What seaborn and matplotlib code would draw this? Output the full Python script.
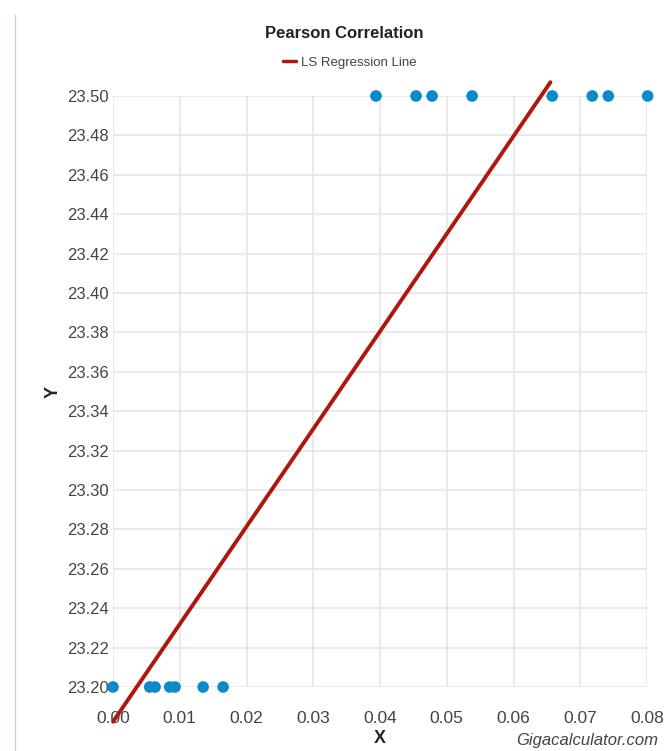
import matplotlib
matplotlib.use("Agg")
import matplotlib.pyplot as plt
import matplotlib.lines as mlines
import seaborn as sns
import numpy as np
import pandas as pd

# values
x_low = [0.0, 0.0055, 0.0063, 0.0085, 0.0093, 0.0135, 0.0165]
x_high = [0.0394, 0.0454, 0.0478, 0.0538, 0.0658, 0.0718, 0.0742, 0.0801]
y_low = 23.20
y_high = 23.50
x_ticks = [0.00, 0.01, 0.02, 0.03, 0.04, 0.05, 0.06, 0.07, 0.08]
y_ticks = [23.20, 23.22, 23.24, 23.26, 23.28, 23.30, 23.32, 23.34, 23.36,
           23.38, 23.40, 23.42, 23.44, 23.46, 23.48, 23.50]
line_y_top = 23.507

df = pd.DataFrame({
    "x": x_low + x_high,
    "y": [y_low] * len(x_low) + [y_high] * len(x_high),
})

slope, intercept = np.polyfit(df["x"], df["y"], 1)
line_x = np.array([min(x_low), (line_y_top - intercept) / slope])
line_y = intercept + slope * line_x

sns.set_style("white")
plt.rcParams['font.family'] = ['Liberation Sans', 'DejaVu Sans']

fig = plt.figure(figsize=(6.72, 7.51), dpi=100)
ax = fig.add_axes([113 / 672, 1 - 687 / 751, (647 - 113) / 672, (687 - 96) / 751])

for v in x_ticks:
    ax.axvline(v, color="#e6e6e6", lw=1.2, zorder=0)
for v in y_ticks:
    ax.axhline(v, color="#e6e6e6", lw=1.2, zorder=0)

ax.plot(line_x, line_y, color="#b0160c", lw=2.8, zorder=2, clip_on=False)
sns.scatterplot(data=df, x="x", y="y", ax=ax, color="#0a8ac9", s=70,
                edgecolor="none", zorder=3, clip_on=False, legend=False)

ax.set_xlim(0, 0.08)
ax.set_ylim(23.20, 23.50)
ax.set_xticks(x_ticks)
ax.set_xticklabels([f"{v:.2f}" for v in x_ticks])
ax.set_yticks(y_ticks)
ax.set_yticklabels([f"{v:.2f}" for v in y_ticks])
ax.tick_params(axis="both", length=0, labelcolor="#444444")
ax.tick_params(axis="x", pad=17, labelsize=12.5)
ax.tick_params(axis="y", pad=3, labelsize=12)
for s in ax.spines.values():
    s.set_visible(False)

ax.set_xlabel("X", fontsize=13, fontweight="bold", labelpad=3)
ax.set_ylabel("Y", fontsize=13, fontweight="bold", labelpad=10)
ax.yaxis.set_label_coords(-(113 - 62) / 534, 0.5)

fig.text(344 / 672, 1 - 33 / 751, "Pearson Correlation", ha="center", va="center",
         fontsize=12, fontweight="bold", color="#222222")
handle = mlines.Line2D([], [], color="#b0160c", lw=2.5)
fig.legend([handle], ["LS Regression Line"], loc="center",
           bbox_to_anchor=(350 / 672, 1 - 63 / 751), frameon=False,
           fontsize=9.5, handlelength=1.0, handletextpad=0.4, labelcolor="#444444")
fig.text(658 / 672, 1 - 740 / 751, "Gigacalculator.com", ha="right", va="center",
         fontsize=12, style="italic", color="#444444")

fig.add_artist(mlines.Line2D([15 / 672, 15 / 672], [0, 1 - 15 / 751],
                             color="#b8d4e6", lw=1))

fig.savefig("out.png", dpi=100)
